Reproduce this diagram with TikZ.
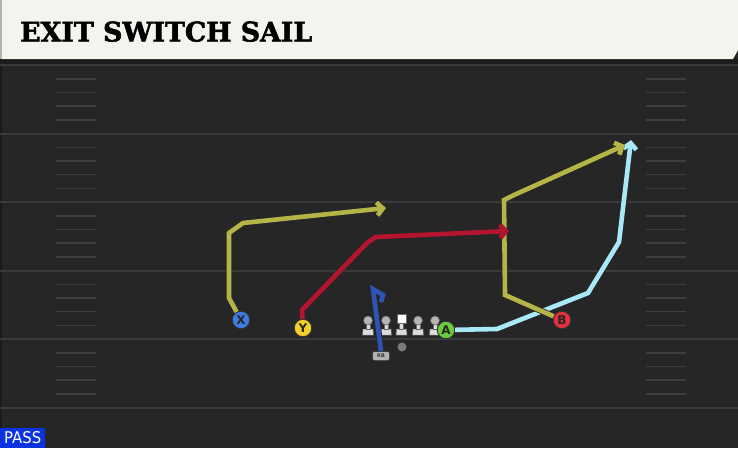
\documentclass[tikz,border=0pt]{standalone}
\usepackage{fontspec}
\setmainfont{DejaVu Sans}
\newfontfamily\titlefont{DejaVu Serif}[BoldFeatures={FakeBold=2}]
\usetikzlibrary{arrows.meta}
\definecolor{fieldbg}{HTML}{262626}
\definecolor{shadowband}{HTML}{1B1B1B}
\definecolor{yardline}{HTML}{3A3A3A}
\definecolor{hashc}{HTML}{3E3E3E}
\definecolor{cream}{HTML}{F5F3EE}
\definecolor{olive}{HTML}{B5B547}
\definecolor{routered}{HTML}{B51430}
\definecolor{cyanr}{HTML}{A8E8F7}
\definecolor{rbblue}{HTML}{2E55B5}
\definecolor{xblue}{HTML}{3B7DE0}
\definecolor{yyellow}{HTML}{F5CF2A}
\definecolor{agreen}{HTML}{6ACC3C}
\definecolor{bred}{HTML}{E5303F}
\definecolor{passblue}{HTML}{0B33E0}
\definecolor{lmbody}{HTML}{DCDCDC}
\definecolor{lmhead}{HTML}{B4B4B4}
\tikzset{
  yard/.style={draw=yardline, line width=2pt},
  hashmark/.style={draw=hashc, line width=1.6pt},
  player/.style={circle, fill=#1, draw=black!80, line width=0.9pt, minimum size=17.5pt, inner sep=0pt, font=\bfseries\fontsize{12}{12}\selectfont, text=black!85},
  route/.style={draw=#1, line width=4.6pt, line join=miter, preaction={draw=black!85, line width=6.2pt}},
  tip/.style={-{Straight Barb[length=6pt,width=13pt]}},
  lineman/.pic={
    \fill[lmbody, draw=black!60, line width=0.5pt] (-5.5,0) -- (5.5,0) -- (5,-6) -- (-5,-6) -- cycle;
    \fill[lmbody, draw=black!60, line width=0.5pt] (-2,-6) rectangle (2,-11);
    \fill[lmhead, draw=black!60, line width=0.5pt] (0,-14.5) circle (4.5);
  },
  centerman/.pic={
    \fill[lmbody, draw=black!60, line width=0.5pt] (-5.5,0) -- (5.5,0) -- (5,-6) -- (-5,-6) -- cycle;
    \fill[lmbody, draw=black!60, line width=0.5pt] (-2,-6) rectangle (2,-12);
    \fill[white, draw=black!60, line width=0.5pt] (-4.5,-12) rectangle (4.5,-21);
  }
}
\begin{document}
\begin{tikzpicture}[x=1pt,y=-1pt]
\useasboundingbox (0,0) rectangle (738,448);
% field
\fill[fieldbg] (0,0) rectangle (738,448);
\fill[black!30!fieldbg] (0,0) rectangle (2,448);
\fill[shadowband] (0,59) rectangle (738,64);
\foreach \y in {65,133.5,202,270.5,339,407.5}
  \draw[yard] (0,\y) -- (738,\y);
\foreach \y in {65,133.5,202,270.5,339}
  \foreach \d in {14,27.5,41,55} {
    \draw[hashmark] (56,\y+\d) -- (96,\y+\d);
    \draw[hashmark] (646,\y+\d) -- (686,\y+\d);
  }
% title bar
\fill[cream] (2,0) -- (738,0) -- (738,50) -- (733,59) -- (2,59) -- cycle;
\fill[black!30] (0,0) rectangle (2,59);
\node[anchor=south west, inner sep=0pt] (title) at (20,42)
  {\resizebox{292pt}{20pt}{\titlefont\bfseries EXIT SWITCH SAIL}};
% PASS label
\node[anchor=south west, fill=passblue, minimum width=45pt, minimum height=20pt, inner sep=0pt, text=white] (pass) at (0,448)
  {\resizebox{37pt}{12pt}{PASS}};
% line
\pic at (368,335) {lineman};
\pic at (386,335) {lineman};
\pic at (401.5,335) {centerman};
\pic at (418,335) {lineman};
\pic at (435,335) {lineman};
\node[circle, fill=black!52, minimum size=9pt, inner sep=0pt] (ball) at (402,347) {};
% players
\node[player=xblue] (X) at (241,320) {X};
\node[player=yyellow] (Y) at (303,328) {Y};
\node[player=agreen] (A) at (446,330) {A};
\node[player=bred] (B) at (562,320) {B};
\node[rounded corners=2pt, fill=black!30, draw=black!80, line width=0.5pt, minimum width=17pt, minimum height=9pt, inner sep=0pt, font=\bfseries\fontsize{5}{5}\selectfont, text=black!80] (RB) at (381,356) {RB};
% route end points
\coordinate (xend) at (386,208);
\coordinate (yend) at (509,231);
\coordinate (aend) at (631,140);
\coordinate (bend) at (625,145);
\coordinate (rbend) at (381,302);
% routes
\draw[route=cyanr, tip] (A) -- (497,329) -- (588,293) -- (619,242) -- (aend);
\draw[route=olive, tip] (B) -- (505,295) -- (504,200) -- (514,195) -- (bend);
\draw[route=olive, tip] (X) -- (229,298) -- (229,233) -- (243,223) -- (xend);
\draw[route=routered, tip] (Y) -- (302,310) -- (367,243) -- (376,237) -- (yend);
\draw[route=rbblue] (RB.north) -- (373,289) -- (383,295) -- (rbend);
\end{tikzpicture}
\end{document}
